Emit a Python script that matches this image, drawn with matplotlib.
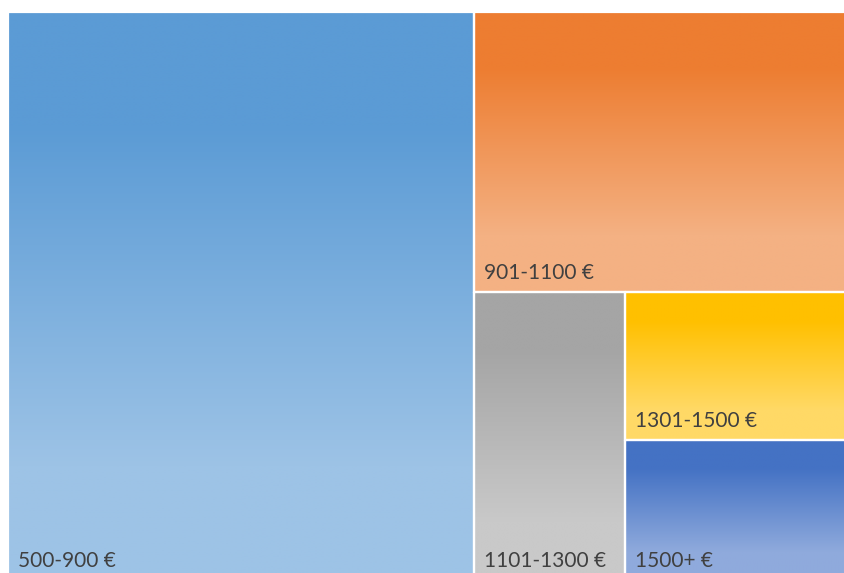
import numpy as np
import matplotlib.pyplot as plt
from matplotlib.colors import LinearSegmentedColormap
from matplotlib.patches import Rectangle

# Price bands and their share of the total
categories = ['500-900 €', '901-1100 €', '1101-1300 €', '1301-1500 €', '1500+ €']
values = [55.1, 22.1, 9.1, 7.0, 6.6]
top_colors = ['#5B9BD5', '#ED7D31', '#A5A5A5', '#FFC000', '#4472C4']
bottom_colors = ['#9DC3E6', '#F4B183', '#C9C9C9', '#FFD966', '#8FAADC']


def slice_layout(vals, x, y, w, h):
    # Peel off one item at a time along the longer side of what is left
    rects = []
    remaining = float(sum(vals))
    for v in vals:
        frac = v / remaining
        if w >= h:
            rw = w * frac
            rects.append((x, y, rw, h))
            x += rw
            w -= rw
        else:
            rh = h * frac
            rects.append((x, y, w, rh))
            y += rh
            h -= rh
        remaining -= v
    return rects


fig = plt.figure(figsize=(8.45, 5.73), dpi=100)
ax = fig.add_axes([0, 0, 1, 1])
ax.set_xlim(0, 845)
ax.set_ylim(573, 0)
ax.axis('off')

rects = slice_layout(values, 8, 12, 844, 568)

for (x, y, w, h), label, c0, c1 in zip(rects, categories, top_colors, bottom_colors):
    cmap = LinearSegmentedColormap.from_list(
        'g', [(0, c0), (0.2, c0), (0.8, c1), (1, c1)])
    grad = np.linspace(0, 1, 256).reshape(-1, 1)
    ax.imshow(grad, cmap=cmap, aspect='auto', extent=(x, x + w, y + h, y),
              interpolation='bilinear', zorder=1)
    ax.add_patch(Rectangle((x, y), w, h, fill=False, edgecolor='white',
                           linewidth=1.6, zorder=2))
    ax.text(x + 10, y + h - 13, label, fontsize=15, family='Lato',
            color='#404040', ha='left', va='baseline', zorder=3)

ax.set_xlim(0, 845)
ax.set_ylim(573, 0)
fig.savefig('out.png', dpi=100, facecolor='white')
